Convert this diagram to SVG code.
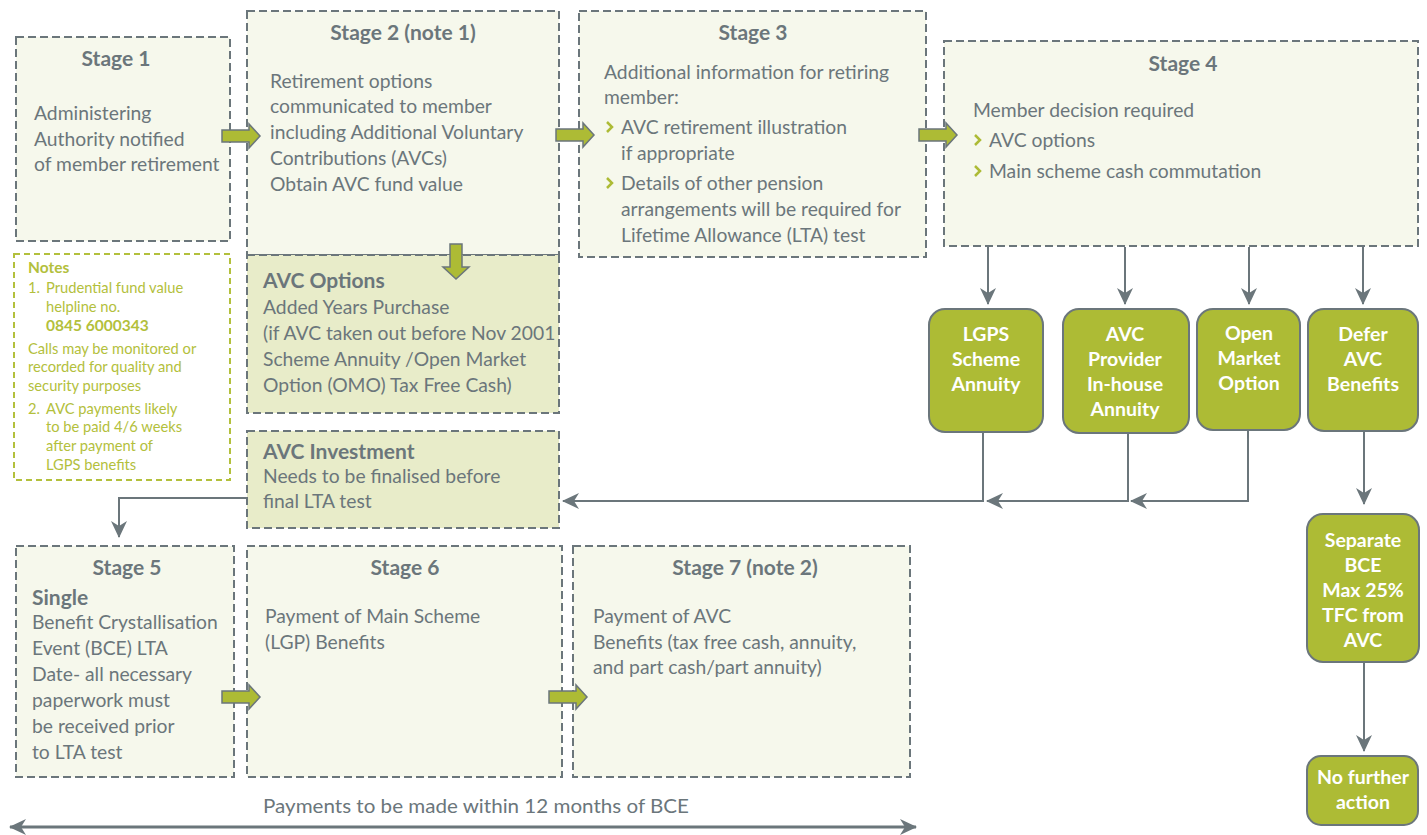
<svg xmlns="http://www.w3.org/2000/svg" width="1427" height="835" viewBox="0 0 1427 835">
<style>
.box{fill:#f6f8ec;stroke:#6b767b;stroke-width:2;stroke-dasharray:8 4}
.box2{fill:#e8ecc9;stroke:#6b767b;stroke-width:2;stroke-dasharray:8 4}
.notes{fill:#ffffff;stroke:#b3c03c;stroke-width:2;stroke-dasharray:6 4}
.t{font-family:Lato,"Open Sans",sans-serif;font-size:19.3px;fill:#6b767b}
.tb{font-family:Lato,"Open Sans",sans-serif;font-size:21px;font-weight:bold;fill:#6b767b}
.ttl{font-family:Lato,"Open Sans",sans-serif;font-size:21px;font-weight:bold;fill:#6b767b;text-anchor:middle}
.n{font-family:Lato,"Open Sans",sans-serif;font-size:14.7px;fill:#b3c03c}
.nb{font-family:Lato,"Open Sans",sans-serif;font-size:15.5px;font-weight:bold;fill:#b3c03c}
.g{fill:#adbb35;stroke:#6b767b;stroke-width:2}
.gt{font-family:Lato,"Open Sans",sans-serif;font-size:19.5px;font-weight:bold;fill:#ffffff;text-anchor:middle}
.blk{fill:#adbb35;stroke:#6b767b;stroke-width:1.5}
.con{fill:none;stroke:#6b767b;stroke-width:2}
.chev{fill:none;stroke:#adbb35;stroke-width:2.5}
</style>
<defs>
<marker id="ah" markerWidth="18" markerHeight="18" refX="16" refY="9" orient="auto" markerUnits="userSpaceOnUse">
<path d="M0 1 L17 9 L0 17 L5 9 Z" fill="#6b767b"/>
</marker>
<marker id="ahs" markerWidth="18" markerHeight="18" refX="1" refY="9" orient="auto" markerUnits="userSpaceOnUse">
<path d="M17 1 L0 9 L17 17 L12 9 Z" fill="#6b767b"/>
</marker>
<path id="blockR" d="M0 -6 H27 V-12 L38 0 L27 12 V6 H0 Z"/>
</defs>

<g id="stage1">
<rect class="box" x="16" y="37" width="214" height="204"/>
<text class="ttl" x="116" y="66">Stage 1</text>
<text class="t" x="34" y="120">Administering</text>
<text class="t" x="34" y="146">Authority notified</text>
<text class="t" x="34" y="171">of member retirement</text>
</g>

<g id="notes">
<rect class="notes" x="14" y="254" width="216" height="226"/>
<text class="nb" x="28" y="273">Notes</text>
<text class="n" x="28" y="293">1.</text>
<text class="n" x="46" y="293">Prudential fund value</text>
<text class="n" x="46" y="312">helpline no.</text>
<text class="nb" x="46" y="331">0845 6000343</text>
<text class="n" x="28" y="354">Calls may be monitored or</text>
<text class="n" x="28" y="372">recorded for quality and</text>
<text class="n" x="28" y="391">security purposes</text>
<text class="n" x="28" y="414">2.</text>
<text class="n" x="46" y="414">AVC payments likely</text>
<text class="n" x="46" y="432">to be paid 4/6 weeks</text>
<text class="n" x="46" y="451">after payment of</text>
<text class="n" x="46" y="470">LGPS benefits</text>
</g>

<g id="stage2">
<rect class="box" x="247" y="11" width="312" height="244"/>
<text class="ttl" x="403" y="40">Stage 2 (note 1)</text>
<text class="t" x="270" y="88">Retirement options</text>
<text class="t" x="270" y="113">communicated to member</text>
<text class="t" x="270" y="139">including Additional Voluntary</text>
<text class="t" x="270" y="165">Contributions (AVCs)</text>
<text class="t" x="270" y="191">Obtain AVC fund value</text>
</g>

<g id="avc-options">
<rect class="box2" x="247" y="255" width="312" height="158"/>
<text class="tb" x="263" y="288">AVC Options</text>
<text class="t" x="263" y="314">Added Years Purchase</text>
<text class="t" x="263" y="340">(if AVC taken out before Nov 2001</text>
<text class="t" x="263" y="366">Scheme Annuity /Open Market</text>
<text class="t" x="263" y="392">Option (OMO) Tax Free Cash)</text>
</g>

<g id="avc-investment">
<rect class="box2" x="247" y="431" width="312" height="97"/>
<text class="tb" x="263" y="459">AVC Investment</text>
<text class="t" x="263" y="483">Needs to be finalised before</text>
<text class="t" x="263" y="508">final LTA test</text>
</g>

<g id="stage3">
<rect class="box" x="579" y="11" width="347" height="246"/>
<text class="ttl" x="753" y="40">Stage 3</text>
<text class="t" x="604" y="79">Additional information for retiring</text>
<text class="t" x="604" y="104">member:</text>
<polyline class="chev" points="607,122 612,127 607,132"/>
<text class="t" x="621" y="134">AVC retirement illustration</text>
<text class="t" x="621" y="160">if appropriate</text>
<polyline class="chev" points="607,178 612,183 607,188"/>
<text class="t" x="621" y="190">Details of other pension</text>
<text class="t" x="621" y="216">arrangements will be required for</text>
<text class="t" x="621" y="242">Lifetime Allowance (LTA) test</text>
</g>

<g id="stage4">
<rect class="box" x="944" y="41" width="474" height="205"/>
<text class="ttl" x="1183" y="71">Stage 4</text>
<text class="t" x="973" y="117">Member decision required</text>
<polyline class="chev" points="975,135 980,140 975,145"/>
<text class="t" x="989" y="147">AVC options</text>
<polyline class="chev" points="975,166 980,171 975,176"/>
<text class="t" x="989" y="178">Main scheme cash commutation</text>
</g>

<g id="stage5">
<rect class="box" x="16" y="546" width="218" height="231"/>
<text class="ttl" x="127" y="575">Stage 5</text>
<text class="tb" x="32" y="605">Single</text>
<text class="t" x="32" y="629">Benefit Crystallisation</text>
<text class="t" x="32" y="655">Event (BCE) LTA</text>
<text class="t" x="32" y="681">Date- all necessary</text>
<text class="t" x="32" y="707">paperwork must</text>
<text class="t" x="32" y="733">be received prior</text>
<text class="t" x="32" y="759">to LTA test</text>
</g>

<g id="stage6">
<rect class="box" x="247" y="546" width="315" height="231"/>
<text class="ttl" x="405" y="575">Stage 6</text>
<text class="t" x="265" y="623">Payment of Main Scheme</text>
<text class="t" x="265" y="649">(LGP) Benefits</text>
</g>

<g id="stage7">
<rect class="box" x="573" y="546" width="337" height="231"/>
<text class="ttl" x="745" y="575">Stage 7 (note 2)</text>
<text class="t" x="593" y="623">Payment of AVC</text>
<text class="t" x="593" y="649">Benefits (tax free cash, annuity,</text>
<text class="t" x="593" y="674">and part cash/part annuity)</text>
</g>

<g id="lgps-annuity">
<rect class="g" x="929" y="309" width="114" height="123" rx="16"/>
<text class="gt" x="986" y="341">LGPS</text>
<text class="gt" x="986" y="366">Scheme</text>
<text class="gt" x="986" y="391">Annuity</text>
</g>
<g id="avc-provider">
<rect class="g" x="1063" y="309" width="126" height="124" rx="16"/>
<text class="gt" x="1125" y="341">AVC</text>
<text class="gt" x="1125" y="366">Provider</text>
<text class="gt" x="1125" y="391">In-house</text>
<text class="gt" x="1125" y="416">Annuity</text>
</g>
<g id="open-market">
<rect class="g" x="1197" y="309" width="103" height="121" rx="16"/>
<text class="gt" x="1249" y="340">Open</text>
<text class="gt" x="1249" y="365">Market</text>
<text class="gt" x="1249" y="390">Option</text>
</g>
<g id="defer-avc">
<rect class="g" x="1308" y="309" width="110" height="122" rx="16"/>
<text class="gt" x="1363" y="341">Defer</text>
<text class="gt" x="1363" y="366">AVC</text>
<text class="gt" x="1363" y="391">Benefits</text>
</g>
<g id="separate-bce">
<rect class="g" x="1307" y="514" width="112" height="148" rx="16"/>
<text class="gt" x="1363" y="547">Separate</text>
<text class="gt" x="1363" y="572">BCE</text>
<text class="gt" x="1363" y="597">Max 25%</text>
<text class="gt" x="1363" y="622">TFC from</text>
<text class="gt" x="1363" y="647">AVC</text>
</g>
<g id="no-further">
<rect class="g" x="1307" y="756" width="111" height="69" rx="14"/>
<text class="gt" x="1363" y="784">No further</text>
<text class="gt" x="1363" y="809">action</text>
</g>

<g id="connectors">
<use href="#blockR" class="blk" x="222" y="136"/>
<use href="#blockR" class="blk" x="556" y="135"/>
<use href="#blockR" class="blk" x="919" y="135"/>
<use href="#blockR" class="blk" x="222" y="697"/>
<use href="#blockR" class="blk" x="549" y="697"/>
<path class="blk" d="M450 244 H462 V267 H469 L456 279 L443 267 H450 Z"/>
<path class="con" d="M988 247 V304" marker-end="url(#ah)"/>
<path class="con" d="M1125 247 V304" marker-end="url(#ah)"/>
<path class="con" d="M1249 247 V304" marker-end="url(#ah)"/>
<path class="con" d="M1363 247 V304" marker-end="url(#ah)"/>
<path class="con" d="M983 432 V501 H563" marker-end="url(#ah)"/>
<path class="con" d="M1128 433 V501 H987" marker-end="url(#ah)"/>
<path class="con" d="M1248 430 V501 H1131" marker-end="url(#ah)"/>
<path class="con" d="M1364 431 V504" marker-end="url(#ah)"/>
<path class="con" d="M1364 662 V751" marker-end="url(#ah)"/>
<path class="con" d="M247 498 H119 V537" marker-end="url(#ah)"/>
<path d="M10 827 H916" fill="none" stroke="#6b767b" stroke-width="3" marker-start="url(#ahs)" marker-end="url(#ah)"/>
<text class="t" x="476" y="813" text-anchor="middle" textLength="426" lengthAdjust="spacingAndGlyphs">Payments to be made within 12 months of BCE</text>
</g>
</svg>
